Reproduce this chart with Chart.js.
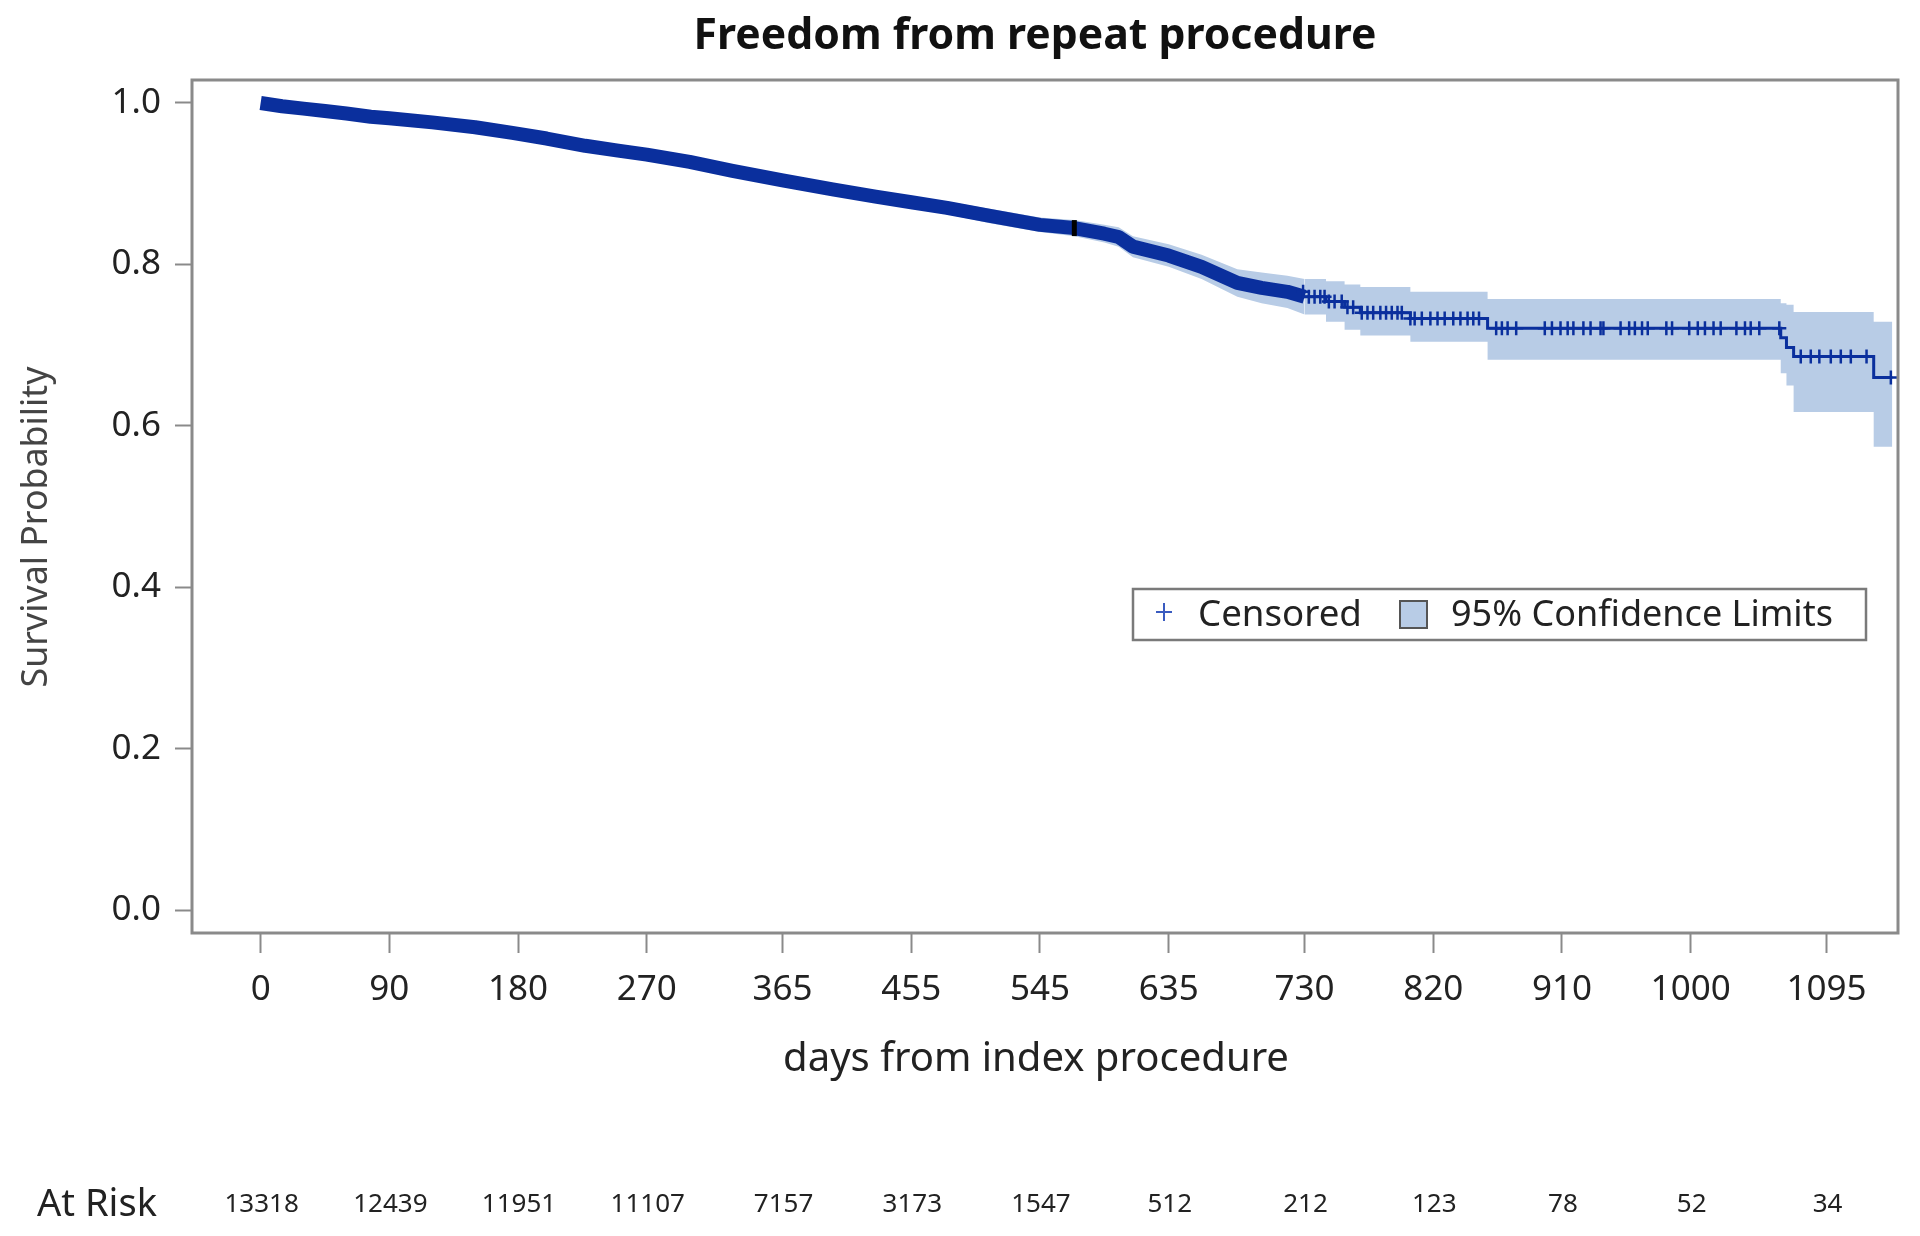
<!DOCTYPE html>
<html>
<head>
<meta charset="utf-8">
<script src="https://cdn.jsdelivr.net/npm/chart.js@4.4.1/dist/chart.umd.min.js"></script>
<style>
  html, body { margin: 0; padding: 0; background: #fff; }
  #wrap { width: 1920px; height: 1236px; position: relative; }
</style>
</head>
<body>
<div id="wrap"><canvas id="c"></canvas></div>
<script>
// ---------- DATA ----------
const chartTitle = 'Freedom from repeat procedure';
const xTitle = 'days from index procedure';
const yTitle = 'Survival Probability';
const legendCensored = 'Censored';
const legendCI = '95% Confidence Limits';
const atRiskLabel = 'At Risk';

const tickDays = [0, 90, 180, 270, 365, 455, 545, 635, 730, 820, 910, 1000, 1095];
const atRisk = [13318, 12439, 11951, 11107, 7157, 3173, 1547, 512, 212, 123, 78, 52, 34];
const yTicks = [0, 0.2, 0.4, 0.6, 0.8, 1.0];

const days = [0,15,30,45,60,77,90,120,150,176,200,227,250,270,300,330,365,400,430,455,480,510,545,569,590,600,610,635,658,683,700,718,730,745,758,769,804,858,1063,1067,1072,1128,1141];
const survival = [1.000,0.996,0.993,0.990,0.987,0.983,0.981,0.976,0.970,0.963,0.956,0.947,0.941,0.936,0.927,0.916,0.904,0.893,0.884,0.877,0.870,0.860,0.849,0.845,0.838,0.834,0.822,0.811,0.797,0.777,0.771,0.766,0.760,0.754,0.747,0.740,0.733,0.721,0.709,0.697,0.686,0.660,0.660];
const upperCL = [1.000,0.998,0.995,0.993,0.990,0.986,0.984,0.980,0.974,0.967,0.960,0.952,0.946,0.941,0.933,0.922,0.910,0.900,0.891,0.884,0.878,0.869,0.858,0.855,0.849,0.846,0.835,0.825,0.812,0.794,0.790,0.786,0.782,0.779,0.775,0.772,0.766,0.757,0.752,0.750,0.741,0.729,0.729];
const lowerCL = [1.000,0.994,0.991,0.987,0.984,0.980,0.978,0.972,0.966,0.959,0.952,0.942,0.936,0.931,0.921,0.910,0.898,0.886,0.877,0.870,0.862,0.851,0.840,0.835,0.827,0.822,0.809,0.797,0.782,0.760,0.752,0.746,0.738,0.729,0.719,0.712,0.704,0.682,0.665,0.650,0.617,0.574,0.574];

// densely censored period (marks merge into a thick ribbon) ends here
const denseCensoringEnd = 730;
// censoring times that are individually visible in the tail
const censoredDays = [729,733,737,741,744,747,751,756,760,764,770,774,778,783,787,791,795,798,804,807,812,818,823,828,834,839,844,848,852,
  864,868,872,878,898,903,909,914,918,925,930,937,939,951,957,961,966,970,983,987,999,1005,1010,1016,1021,1032,1038,1042,1048,1062,
  1077,1084,1090,1098,1105,1112,1123,1140];
const markDays = [569];

// ---------- helpers ----------
function survAt(t) {
  let v = survival[0];
  for (let i = 0; i < days.length; i++) { if (days[i] <= t) v = survival[i]; }
  return v;
}
const pts = (xs, ys) => xs.map((x, i) => ({ x: x, y: ys[i] }));
const early = arr => arr.filter(p => p.x <= denseCensoringEnd);
const late = arr => arr.filter(p => p.x >= denseCensoringEnd);

const BLUE = '#0a2f9d';
const BAND = '#b8cce6';
const FONT = '"Noto Sans", "Open Sans", sans-serif';

function fitFont(ctx, text, weight, targetW) {
  ctx.font = `${weight} 100px ${FONT}`;
  const w = ctx.measureText(text).width;
  const size = 100 * targetW / w;
  ctx.font = `${weight} ${size}px ${FONT}`;
  return size;
}

const framePlugin = {
  id: 'frame',
  afterDatasetsDraw(chart) {
    const { ctx, chartArea: a } = chart;
    ctx.save();
    ctx.strokeStyle = '#8a8a8a';
    ctx.lineWidth = 3;
    ctx.strokeRect(a.left, a.top, a.right - a.left, a.bottom - a.top);
    ctx.restore();
  }
};

const textPlugin = {
  id: 'texts',
  afterDraw(chart) {
    const ctx = chart.ctx;
    const xs = chart.scales.x;
    ctx.save();
    ctx.textBaseline = 'middle';
    // title
    ctx.fillStyle = '#111';
    ctx.textAlign = 'center';
    fitFont(ctx, chartTitle, 'bold', 683);
    ctx.fillText(chartTitle, 1035, 37);
    // x title
    ctx.fillStyle = '#222';
    fitFont(ctx, xTitle, 'normal', 506);
    ctx.fillText(xTitle, 1036, 1060);
    // y title
    ctx.save();
    ctx.translate(37, 527);
    ctx.rotate(-Math.PI / 2);
    ctx.fillStyle = '#444';
    fitFont(ctx, yTitle, 'normal', 321);
    ctx.fillText(yTitle, 0, 0);
    ctx.restore();
    // at risk row
    ctx.fillStyle = '#222';
    ctx.textAlign = 'left';
    fitFont(ctx, atRiskLabel, 'normal', 120);
    ctx.fillText(atRiskLabel, 37, 1205);
    ctx.textAlign = 'center';
    ctx.font = `normal 26px ${FONT}`;
    tickDays.forEach((d, i) => {
      ctx.fillText(String(atRisk[i]), xs.getPixelForValue(d) + 1, 1205);
    });
    // legend
    ctx.strokeStyle = '#7a7a7a';
    ctx.lineWidth = 2.5;
    ctx.strokeRect(1133, 589, 733, 51);
    ctx.strokeStyle = '#3a5bc0';
    ctx.lineWidth = 2;
    ctx.beginPath();
    ctx.moveTo(1164, 603); ctx.lineTo(1164, 621);
    ctx.moveTo(1156, 612); ctx.lineTo(1172, 612);
    ctx.stroke();
    ctx.fillStyle = BAND;
    ctx.fillRect(1400, 601, 27, 27);
    ctx.strokeStyle = '#555';
    ctx.lineWidth = 2;
    ctx.strokeRect(1400, 601, 27, 27);
    ctx.fillStyle = '#222';
    ctx.textAlign = 'left';
    fitFont(ctx, legendCensored, 'normal', 164);
    ctx.fillText(legendCensored, 1198, 616);
    fitFont(ctx, legendCI, 'normal', 382);
    ctx.fillText(legendCI, 1451, 616);
    ctx.restore();
  }
};

const bandStyle = { borderWidth: 0, borderColor: BAND, backgroundColor: BAND, pointRadius: 0, order: 4 };

new Chart(document.getElementById('c'), {
  type: 'line',
  data: {
    datasets: [
      // confidence band, densely censored period
      { label: 'upper early', data: early(pts(days, upperCL)), stepped: false, fill: '+1', ...bandStyle },
      { label: 'lower early', data: early(pts(days, lowerCL)), stepped: false, fill: false, ...bandStyle },
      // confidence band, tail
      { label: 'upper late', data: late(pts(days, upperCL)), stepped: true, fill: '+1', ...bandStyle },
      { label: 'lower late', data: late(pts(days, lowerCL)), stepped: true, fill: false, ...bandStyle },
      // survival estimate: dense censoring ribbon + step line
      { label: 'Survival dense', data: early(pts(days, survival)), stepped: false, borderColor: BLUE, borderWidth: 14,
        fill: false, pointRadius: 0, order: 3, borderCapStyle: 'butt', borderJoinStyle: 'round' },
      { label: 'Survival', data: late(pts(days, survival)), stepped: true, borderColor: BLUE, borderWidth: 3,
        fill: false, pointRadius: 0, order: 2 },
      { label: 'Censored', data: censoredDays.map(d => ({ x: d, y: survAt(d) })), showLine: false,
        pointStyle: 'cross', pointRadius: 7, pointBorderWidth: 2.5, pointBorderColor: BLUE, borderColor: BLUE, order: 1 },
      { label: 'mark', data: markDays.map(d => ({ x: d, y: survAt(d) })), showLine: false,
        pointStyle: 'line', rotation: 90, pointRadius: 8, pointBorderWidth: 5, pointBorderColor: '#000', borderColor: '#000', order: 0 }
    ]
  },
  options: {
    responsive: true,
    maintainAspectRatio: false,
    animation: false,
    layout: { padding: { top: 80, right: 22, left: 0, bottom: 0 } },
    plugins: { legend: { display: false }, title: { display: false }, tooltip: { enabled: false } },
    scales: {
      x: {
        type: 'linear', min: -48, max: 1145,
        afterFit: s => { s.height = 303; },
        afterBuildTicks: s => { s.ticks = tickDays.map(v => ({ value: v })); },
        grid: { drawOnChartArea: false, drawTicks: true, tickLength: 20, tickWidth: 2, tickColor: '#8a8a8a' },
        border: { display: false },
        ticks: { font: { family: FONT, size: 35 }, color: '#222', padding: 16, maxRotation: 0, autoSkip: false,
                 callback: v => String(v) }
      },
      y: {
        min: -0.0285, max: 1.0285,
        afterFit: s => { s.width = 192; },
        afterBuildTicks: s => { s.ticks = yTicks.map(v => ({ value: v })); },
        grid: { drawOnChartArea: false, drawTicks: true, tickLength: 17, tickWidth: 2, tickColor: '#8a8a8a' },
        border: { display: false },
        ticks: { font: { family: FONT, size: 35 }, color: '#222', padding: 14, callback: v => Number(v).toFixed(1) }
      }
    }
  },
  plugins: [framePlugin, textPlugin]
});
</script>
</body>
</html>
